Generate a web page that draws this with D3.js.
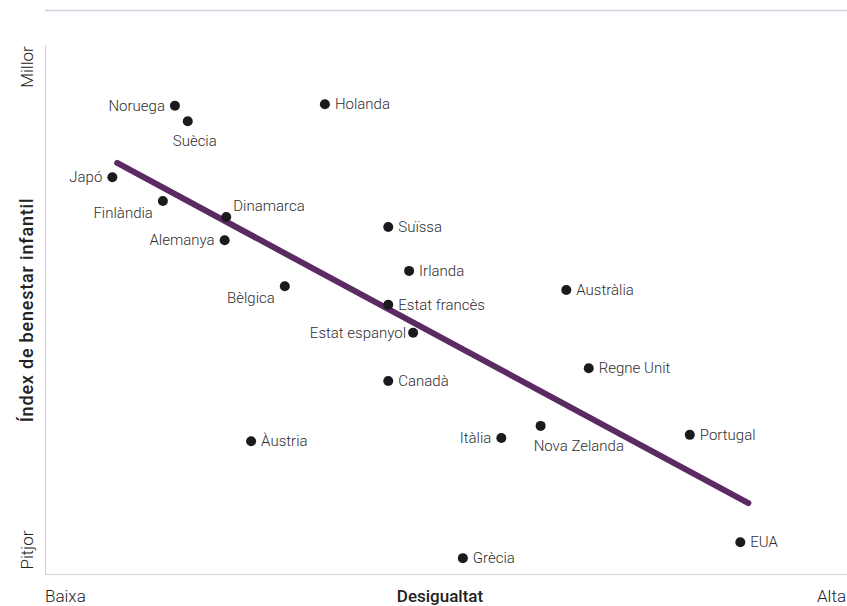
<!DOCTYPE html>
<html><head><meta charset="utf-8">
<script src="https://cdn.jsdelivr.net/npm/d3@7"></script>
<style>body{margin:0;background:#fff}svg{display:block;font-family:Roboto,"DejaVu Sans",sans-serif}</style>
</head><body>
<script>
const countries = ["Noruega","Suècia","Holanda","Japó","Finlàndia","Dinamarca","Alemanya","Suïssa","Irlanda","Bèlgica","Estat francès","Austràlia","Estat espanyol","Canadà","Regne Unit","Àustria","Itàlia","Nova Zelanda","Portugal","Grècia","EUA"];
const inequality = [16.2,17.8,34.9,8.4,14.7,22.6,22.4,42.8,45.4,29.9,42.8,65.0,45.9,42.8,67.8,25.7,56.9,61.8,80.4,52.1,86.7];
const wellbeing = [88.5,85.6,88.8,75.0,70.5,67.5,63.1,65.6,57.3,54.4,50.9,53.7,45.6,36.5,38.9,25.1,25.7,28.0,26.3,3.0,6.0];
const labelPos = ["left","below","right","left","leftbelow","rightabove","left","right","right","leftbelow","right","right","left","right","right","right","left","below","right","right","right"];
const trendX = [9.0,87.7];
const trendY = [77.7,13.4];
const xTickLabels = ["Baixa","Desigualtat","Alta"];
const yTickLabels = ["Pitjor","Índex de benestar infantil","Millor"];

const W=847,H=606;
const m={left:45,right:0,top:45,bottom:32};
const svg=d3.select("body").append("svg").attr("width",W).attr("height",H);
const x=d3.scaleLinear().domain([0,100]).range([m.left,W-m.right]);
const y=d3.scaleLinear().domain([0,100]).range([H-m.bottom,m.top]);
const frame="#d9cde0";

svg.append("line").attr("x1",m.left).attr("x2",W).attr("y1",10.5).attr("y2",10.5).attr("stroke",frame).attr("stroke-width",1.5);
svg.append("line").attr("x1",m.left+0.5).attr("x2",m.left+0.5).attr("y1",m.top).attr("y2",y(0)).attr("stroke",frame).attr("stroke-width",1.2);
svg.append("line").attr("x1",m.left).attr("x2",W).attr("y1",y(0)+0.5).attr("y2",y(0)+0.5).attr("stroke",frame).attr("stroke-width",1.2);

// trend line
svg.append("line").attr("x1",x(trendX[0])).attr("y1",y(trendY[0])).attr("x2",x(trendX[1])).attr("y2",y(trendY[1]))
  .attr("stroke","#5b2a63").attr("stroke-width",6).attr("stroke-linecap","round");

const data=countries.map((c,i)=>({c,x:inequality[i],y:wellbeing[i],p:labelPos[i]}));
const g=svg.append("g");
g.selectAll("circle").data(data).join("circle").attr("cx",d=>x(d.x)).attr("cy",d=>y(d.y)).attr("r",5).attr("fill","#1c1a1d");
g.selectAll("text").data(data).join("text")
  .attr("font-size",15).attr("font-weight",300).attr("fill","#2e2e2e")
  .attr("x",d=>{const cx=x(d.x);return d.p==="left"?cx-10:d.p==="leftbelow"?cx-10:d.p==="right"?cx+10:d.p==="rightabove"?cx+7:cx-15;})
  .attr("y",d=>{const cy=y(d.y);return d.p==="below"?cy+25:d.p==="leftbelow"?cy+17:d.p==="rightabove"?cy-6:cy+5;})
  .attr("text-anchor",d=>(d.p==="left"||d.p==="leftbelow")?"end":"start")
  .text(d=>d.c);
g.selectAll("text").filter(d=>d.c==="Nova Zelanda").attr("x",d=>x(d.x)-7);
g.selectAll("text").filter(d=>d.c==="Estat espanyol").attr("x",d=>x(d.x)-7);

// axis labels
const fs=17;
svg.append("text").attr("x",m.left).attr("y",602).attr("font-size",fs).attr("font-weight",300).attr("fill","#222").text(xTickLabels[0]);
svg.append("text").attr("x",440).attr("y",602).attr("font-size",fs).attr("font-weight",500).attr("fill","#222").attr("text-anchor","middle").text(xTickLabels[1]);
svg.append("text").attr("x",W-1).attr("y",602).attr("font-size",fs).attr("font-weight",300).attr("fill","#222").attr("text-anchor","end").text(xTickLabels[2]);

function yLabel(t,cy,bold){
  svg.append("text").attr("transform",`translate(33,${cy}) rotate(-90)`).attr("text-anchor","middle")
   .attr("font-size",bold?18:fs).attr("font-weight",bold?500:300).attr("letter-spacing",bold?0.8:0).attr("fill","#222").text(t);
}
yLabel(yTickLabels[0],550,false);
yLabel(yTickLabels[1],310,true);
yLabel(yTickLabels[2],67,false);
</script>
</body></html>
